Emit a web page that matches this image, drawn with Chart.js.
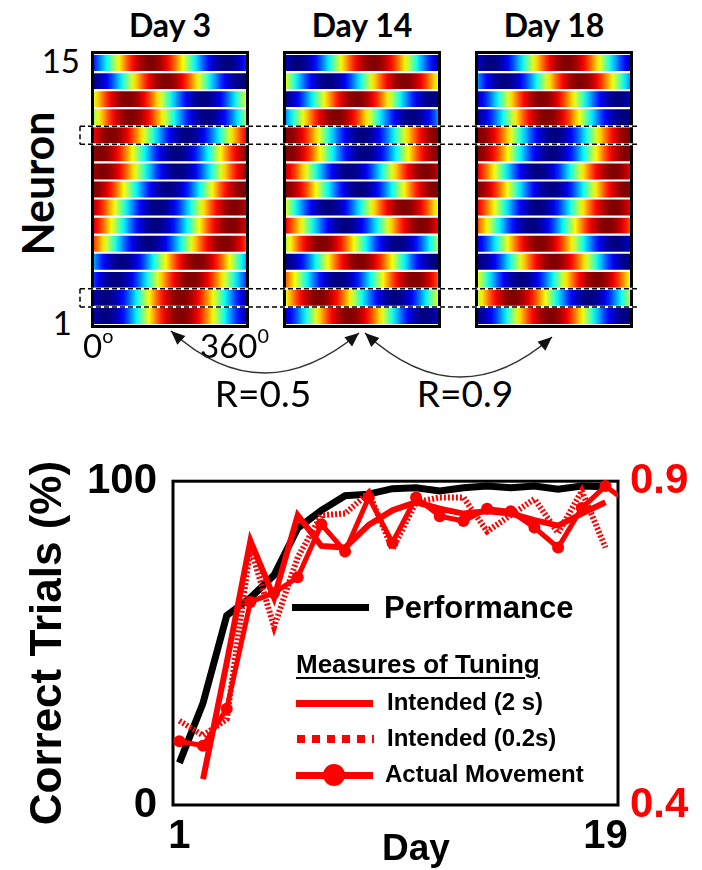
<!DOCTYPE html>
<html>
<head>
<meta charset="utf-8">
<script src="https://cdn.jsdelivr.net/npm/chart.js@4.4.0/dist/chart.umd.min.js"></script>
<style>
  body { margin: 0; background: #fff; }
  #page { position: relative; width: 702px; height: 870px; overflow: hidden; }
  .abs { position: absolute; white-space: nowrap; line-height: 1; }
  .lato { font-family: Lato, "DejaVu Sans", sans-serif; }
  .arial { font-family: "Liberation Sans", Arial, sans-serif; font-weight: bold; }
  .panel { position: absolute; top: 51px; width: 158px; height: 277px; }
  .ptitle { position: absolute; top: 5px; width: 158px; text-align: center; font-size: 32px; font-weight: bold; }
  sup { font-size: 60%; vertical-align: 0; position: relative; top: -0.75em; }
  #overlay { position: absolute; left: 0; top: 0; pointer-events: none; z-index: 3; }
  #lineWrap { position: absolute; left: 0; top: 440px; width: 702px; height: 430px; }
  .sw { position: absolute; z-index: 4; }
</style>
</head>
<body>
<div id="page">
  <div class="ptitle lato" style="left:91px">Day 3</div>
  <div class="ptitle lato" style="left:283px">Day 14</div>
  <div class="ptitle lato" style="left:475px">Day 18</div>

  <div class="panel" style="left:91px"><canvas id="day3"></canvas></div>
  <div class="panel" style="left:283px"><canvas id="day14"></canvas></div>
  <div class="panel" style="left:475px"><canvas id="day18"></canvas></div>

  <div class="abs lato" style="left:30px;width:50px;text-align:right;top:44px;font-size:33px">15</div>
  <div class="abs lato" style="left:30px;width:42px;text-align:right;top:306px;font-size:33px">1</div>
  <div class="abs lato" style="left:83px;top:329px;font-size:33px">0<sup>o</sup></div>
  <div class="abs lato" style="left:200px;top:329px;font-size:33px">360<sup>0</sup></div>
  <div class="abs lato" style="left:213px;width:100px;text-align:center;top:374px;font-size:37px">R=0.5</div>
  <div class="abs lato" style="left:415px;width:100px;text-align:center;top:374px;font-size:37px">R=0.9</div>
  <div class="abs lato" style="left:-43px;width:160px;text-align:center;top:162px;font-size:43px;font-weight:bold;transform:rotate(-90deg)">Neuron</div>

  <canvas id="overlay" width="702" height="870"></canvas>

  <div id="lineWrap"><canvas id="lineChart"></canvas></div>

  <!-- legend -->
  <div class="sw" style="left:292px;top:604px;width:77px;height:7px;background:#000"></div>
  <div class="abs arial" style="left:384px;top:592px;font-size:31px;z-index:4">Performance</div>
  <div class="abs arial" style="left:296px;top:651px;font-size:26px;text-decoration:underline;text-decoration-thickness:2px;text-underline-offset:4px;z-index:4">Measures of Tuning</div>
  <div class="sw" style="left:296px;top:700px;width:77px;height:7px;background:#f00"></div>
  <div class="abs arial" style="left:387px;top:690px;font-size:24px;z-index:4">Intended (2 s)</div>
  <div class="sw" style="left:297px;top:735px;width:77px;height:8px;background:repeating-linear-gradient(to right,#f00 0 8px,transparent 8px 15px)"></div>
  <div class="abs arial" style="left:387px;top:726px;font-size:24px;z-index:4">Intended (0.2s)</div>
  <div class="sw" style="left:296px;top:772px;width:77px;height:7px;background:#f00"></div>
  <div class="sw" style="left:323px;top:764px;width:22px;height:22px;border-radius:50%;background:#f00"></div>
  <div class="abs arial" style="left:385px;top:762px;font-size:24px;z-index:4">Actual Movement</div>

  <div class="abs arial" style="left:366px;width:100px;text-align:center;top:829px;font-size:37px;z-index:4">Day</div>
</div>

<script>
// preferred direction (deg) of each neuron, neuron 1 .. 15
const neurons = ['1','2','3','4','5','6','7','8','9','10','11','12','13','14','15'];
const prefDay3 = [206, 206, 230, 245, 309, 325, 332, 355, 20, 15, 40, 87, 79, 170, 134];
const prefDay14 = [150, 77, 305, 175, 85, 320, 280, 355, 330, 5, 0, 118, 167, 280, 207];
const prefDay18 = [171, 83, 282, 179, 147, 306, 322, 353, 322, 355, 0, 163, 151, 242, 210];
const boxedNeurons = [11, 2];

// learning curves
const days = [1, 2, 3, 4, 5, 6, 7, 8, 9, 10, 11, 12, 13, 14, 15, 16, 17, 18, 19, 20];
const performance = [13, 31.5, 58.5, 64, 71, 85.5, 91, 95.5, 96, 97.7, 98, 97, 98, 98.5, 98, 98.5, 97.5, 98.5, 98.3];
const intended2s = [null, 0.44, 0.62, 0.808, 0.72, 0.8475, 0.80, 0.7975, 0.8325, 0.855, 0.8675, 0.8575, 0.85, 0.8535, 0.85, 0.84, 0.8315, 0.85, 0.8675];
const intended02s = [0.53, 0.5075, 0.5325, 0.7975, 0.675, 0.7825, 0.8475, 0.85, 0.8825, 0.795, 0.8675, 0.875, 0.875, 0.8225, 0.8475, 0.8725, 0.82, 0.885, 0.7975];
const actualMovement = [0.4985, 0.4915, 0.5485, 0.7135, 0.7275, 0.7515, 0.8335, 0.7915, 0.875, 0.805, 0.875, 0.846, 0.8385, 0.8575, 0.8535, 0.8285, 0.7975, 0.8585, 0.8925, 0.865];
const leftTicks = [0, 100];
const rightTicks = [0.4, 0.9];
const dayTicks = [1, 19];

function jet(v) {
  const c = x => Math.round(255 * Math.min(1, Math.max(0, x)));
  return `rgb(${c(1.5 - Math.abs(4 * v - 3))},${c(1.5 - Math.abs(4 * v - 2))},${c(1.5 - Math.abs(4 * v - 1))})`;
}

const panelBorder = {
  id: 'panelBorder',
  afterDraw(chart) {
    const ctx = chart.ctx;
    ctx.save();
    ctx.strokeStyle = '#000';
    ctx.lineWidth = 3;
    ctx.strokeRect(1.5, 1.5, chart.width - 3, chart.height - 3);
    ctx.restore();
  }
};

function makePanel(id, prefs) {
  return new Chart(document.getElementById(id), {
    type: 'bar',
    data: {
      labels: neurons,
      datasets: [{
        data: neurons.map(() => [0, 360]),
        backgroundColor: ctx => {
          const chart = ctx.chart;
          if (!chart.chartArea || ctx.dataIndex === undefined) return '#00f';
          const xs = chart.scales.x;
          const g = chart.ctx.createLinearGradient(xs.getPixelForValue(0), 0, xs.getPixelForValue(360), 0);
          const pref = prefs[ctx.dataIndex];
          for (let a = 0; a <= 360; a += 10) {
            const v = Math.cos((a - pref) * Math.PI / 180);
            g.addColorStop(a / 360, jet((v + 1) / 2));
          }
          return g;
        },
        borderWidth: 0,
        borderSkipped: false,
        barPercentage: 1,
        categoryPercentage: 0.88
      }]
    },
    options: {
      indexAxis: 'y',
      responsive: true,
      maintainAspectRatio: false,
      animation: false,
      layout: { padding: 3 },
      plugins: { legend: { display: false }, tooltip: { enabled: false } },
      scales: {
        x: { type: 'linear', min: 0, max: 360, display: false },
        y: { reverse: true, display: false }
      }
    },
    plugins: [panelBorder]
  });
}

const p3 = makePanel('day3', prefDay3);
makePanel('day14', prefDay14);
makePanel('day18', prefDay18);

// dashed boxes and arrows
const o = document.getElementById('overlay').getContext('2d');
const ys = p3.scales.y;
const rowH = ys.height / neurons.length;
boxedNeurons.forEach(n => {
  const yc = 51 + ys.getPixelForValue(n - 1);
  [yc - rowH / 2, yc + rowH / 2].forEach(y => {
    o.setLineDash([]);
    o.strokeStyle = '#fff';
    o.lineWidth = 2;
    o.beginPath(); o.moveTo(80, y); o.lineTo(637, y); o.stroke();
    o.setLineDash([5, 3]);
    o.strokeStyle = '#000';
    o.lineWidth = 1.5;
    o.beginPath(); o.moveTo(80, y); o.lineTo(637, y); o.stroke();
  });
  o.beginPath(); o.moveTo(80, yc - rowH / 2); o.lineTo(80, yc + rowH / 2); o.stroke();
});
o.setLineDash([]);

function head(tx, ty, fx, fy) {
  const a = Math.atan2(ty - fy, tx - fx);
  const len = 14, w = 6;
  o.beginPath();
  o.moveTo(tx, ty);
  o.lineTo(tx - len * Math.cos(a) + w * Math.sin(a), ty - len * Math.sin(a) - w * Math.cos(a));
  o.lineTo(tx - len * Math.cos(a) - w * Math.sin(a), ty - len * Math.sin(a) + w * Math.cos(a));
  o.closePath();
  o.fill();
}
function arc(x0, y0, cx, cy, x1, y1, h0, h1) {
  o.strokeStyle = '#333';
  o.fillStyle = '#111';
  o.lineWidth = 1.6;
  o.beginPath(); o.moveTo(x0, y0); o.quadraticCurveTo(cx, cy, x1, y1); o.stroke();
  if (h0) head(x0, y0, cx, cy);
  if (h1) head(x1, y1, cx, cy);
}
arc(171, 331, 262, 414, 359, 333, true, true);
arc(365, 333, 458, 419, 552, 337, true, true);

// learning curves
const pts = arr => arr.map((v, i) => ({ x: days[i], y: v }));

const frame = {
  id: 'frame',
  beforeDatasetsDraw(chart) {
    const { left, top, width, height } = chart.chartArea;
    const ctx = chart.ctx;
    ctx.save();
    ctx.strokeStyle = '#000';
    ctx.lineWidth = 3;
    ctx.strokeRect(left, top, width, height);
    ctx.restore();
  }
};

const big = { family: '"Liberation Sans", Arial, sans-serif', weight: 'bold' };

new Chart(document.getElementById('lineChart'), {
  type: 'line',
  data: {
    datasets: [
      {
        label: 'Actual Movement', data: pts(actualMovement), yAxisID: 'yr',
        borderColor: '#f00', backgroundColor: '#f00', borderWidth: 5,
        pointRadius: 6, pointBorderWidth: 0, clip: { left: 20, top: 20, right: 0, bottom: 20 }
      },
      {
        label: 'Intended (2 s)', data: pts(intended2s), yAxisID: 'yr',
        borderColor: '#f00', borderWidth: 6, pointRadius: 0
      },
      {
        label: 'Intended (0.2s)', data: pts(intended02s), yAxisID: 'yr',
        borderColor: '#f00', borderWidth: 6, borderDash: [2, 2], pointRadius: 0
      },
      {
        label: 'Performance', data: pts(performance), yAxisID: 'y',
        borderColor: '#000', borderWidth: 7, pointRadius: 0
      }
    ]
  },
  options: {
    responsive: true,
    maintainAspectRatio: false,
    animation: false,
    layout: { padding: { top: 32, left: 0, right: 0, bottom: 0 } },
    plugins: { legend: { display: false }, tooltip: { enabled: false } },
    scales: {
      x: {
        type: 'linear', min: 0.73, max: 19.53,
        grid: { display: false, drawTicks: false }, border: { display: false },
        afterBuildTicks: s => { s.ticks = dayTicks.map(v => ({ value: v })); },
        afterFit: s => { s.height = 65; },
        ticks: { color: '#000', padding: 8, maxRotation: 0, font: { ...big, size: 40 } }
      },
      y: {
        position: 'left', min: 0, max: 100,
        grid: { display: false, drawTicks: false }, border: { display: false },
        afterBuildTicks: s => { s.ticks = leftTicks.map(v => ({ value: v })); },
        afterFit: s => { s.width = 173; },
        ticks: { color: '#000', padding: 16, font: { ...big, size: 42 } },
        title: { display: true, text: 'Correct Trials (%)', color: '#000', padding: { top: 22, bottom: 0 }, font: { ...big, size: 44 } }
      },
      yr: {
        position: 'right', min: 0.4, max: 0.9,
        grid: { display: false, drawTicks: false }, border: { display: false },
        afterBuildTicks: s => { s.ticks = rightTicks.map(v => ({ value: v })); },
        afterFit: s => { s.width = 84; },
        ticks: { color: '#f00', padding: 12, callback: v => v.toFixed(1), font: { ...big, size: 42 } }
      }
    }
  },
  plugins: [frame]
});
</script>
</body>
</html>
